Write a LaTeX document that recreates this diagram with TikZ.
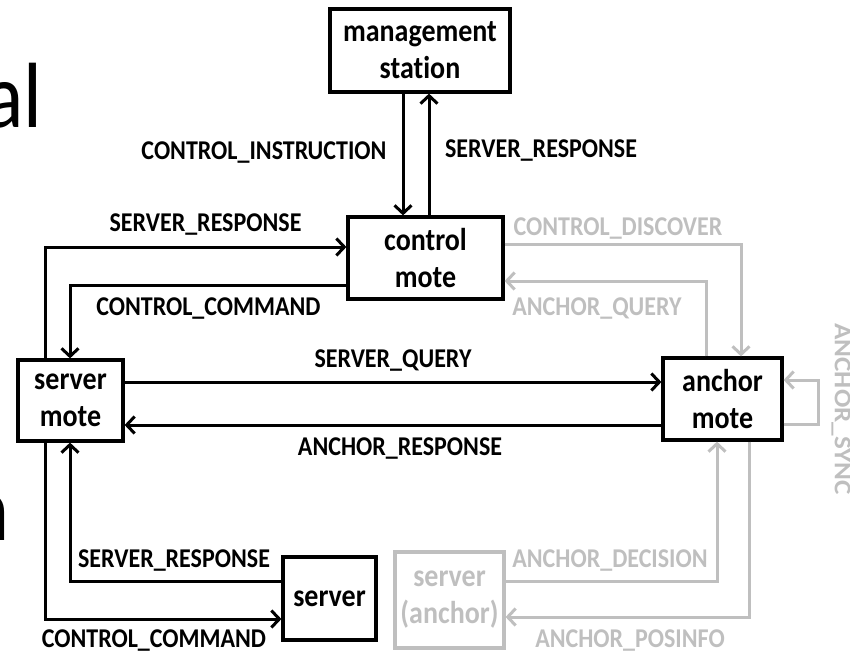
\documentclass[tikz,border=0pt]{standalone}
\usepackage{fontspec}
\setmainfont{Carlito}[Ligatures=NoCommon]
\usetikzlibrary{arrows.meta}
\definecolor{lgray}{RGB}{191,191,191}
\newcommand{\vst}[1]{\scalebox{1}[1.13]{#1}}
\newcommand{\hst}[1]{\scalebox{1.13}[1]{#1}}
\begin{document}
\begin{tikzpicture}[x=1pt,y=-1pt,
  box/.style={draw, line width=3.2pt, inner sep=0pt, font=\fontsize{28}{37}\selectfont\bfseries, align=center},
  lbl/.style={font=\fontsize{24}{28}\selectfont\bfseries, inner sep=0pt, anchor=base},
  conn/.style={line width=3pt, -{Straight Barb[length=8pt,width=17pt,line width=3pt]}},
  gr/.style={draw=lgray, text=lgray},
  big/.style={font=\fontsize{82}{90}\selectfont, inner sep=0pt, anchor=base west}]
\useasboundingbox (0,0) rectangle (850,652);

% partial slide text
\node[big] (al) at (-16,128) {\vst{al}};
\node[big] (nn) at (-34,540) {\vst{n}};

% boxes
\node[box, minimum width=180pt, minimum height=83pt] (mgmt) at (420,50.5) {\vst{management}\\\vst{station}};
\node[box, minimum width=155pt, minimum height=82pt] (ctrl) at (425.5,258) {\vst{control}\\\vst{mote}};
\node[box, minimum width=105pt, minimum height=81pt] (smote) at (70.5,400.5) {\vst{server}\\\vst{mote}};
\node[box, minimum width=119pt, minimum height=82pt] (amote) at (722.5,399) {\vst{anchor}\\\vst{mote}};
\node[box, minimum width=93pt, minimum height=83pt] (srv) at (329.5,598.5) {\vst{server}};
\node[box, gr, minimum width=109pt, minimum height=96pt] (sanc) at (449.5,600) {\vst{server}\\\vst{(anchor)}};

% helper coordinates
\coordinate (xa) at (403,0);
\coordinate (xb) at (429,0);
\coordinate (xl1) at (45,0);
\coordinate (xl2) at (70,0);
\coordinate (xcd) at (741,0);
\coordinate (xaq) at (706,0);
\coordinate (xsync) at (818,0);
\coordinate (xad) at (717,0);
\coordinate (xap) at (749,0);
\coordinate (ysr) at (0,247);
\coordinate (ycc) at (0,285);
\coordinate (ysq) at (0,382);
\coordinate (yar) at (0,425);
\coordinate (ycd) at (0,244);
\coordinate (yaq) at (0,281);
\coordinate (ys1) at (0,380);
\coordinate (ys2) at (0,424);
\coordinate (ysrb) at (0,581);
\coordinate (yccb) at (0,619);
\coordinate (yadb) at (0,581);
\coordinate (yapb) at (0,617);

% black connectors
\draw[conn] (xa |- mgmt.south) -- (xa |- ctrl.north);
\draw[conn] (xb |- ctrl.north) -- (xb |- mgmt.south);
\draw[conn] (xl1 |- smote.north) -- (xl1 |- ysr) -- (ysr -| ctrl.west);
\draw[conn] (ycc -| ctrl.west) -- (xl2 |- ycc) -- (xl2 |- smote.north);
\draw[conn] (ysq -| smote.east) -- (ysq -| amote.west);
\draw[conn] (yar -| amote.west) -- (yar -| smote.east);
\draw[conn] (ysrb -| srv.west) -- (xl2 |- ysrb) -- (xl2 |- smote.south);
\draw[conn] (xl1 |- smote.south) -- (xl1 |- yccb) -- (yccb -| srv.west);

% gray connectors
\draw[conn, lgray] (ycd -| ctrl.east) -- (xcd |- ycd) -- (xcd |- amote.north);
\draw[conn, lgray] (xaq |- amote.north) -- (xaq |- yaq) -- (yaq -| ctrl.east);
\draw[conn, lgray] (ys2 -| amote.east) -- (xsync |- ys2) -- (xsync |- ys1) -- (ys1 -| amote.east);
\draw[conn, lgray] (yadb -| sanc.east) -- (xad |- yadb) -- (xad |- amote.south);
\draw[conn, lgray] (xap |- amote.south) -- (xap |- yapb) -- (yapb -| sanc.east);

% labels
\node[lbl] (l1) at (264,160) {\vst{CONTROL\_INSTRUCTION}};
\node[lbl] (l2) at (541,158) {\vst{SERVER\_RESPONSE}};
\node[lbl] (l3) at (205.5,232) {\vst{SERVER\_RESPONSE}};
\node[lbl] (l4) at (208.5,315) {\vst{CONTROL\_COMMAND}};
\node[lbl] (l5) at (393,367) {\vst{SERVER\_QUERY}};
\node[lbl] (l6) at (400,455) {\vst{ANCHOR\_RESPONSE}};
\node[lbl] (l7) at (174,567) {\vst{SERVER\_RESPONSE}};
\node[lbl] (l8) at (154,647) {\vst{CONTROL\_COMMAND}};
\node[lbl, lgray] (g1) at (618,235) {\vst{CONTROL\_DISCOVER}};
\node[lbl, lgray] (g2) at (597,315) {\vst{ANCHOR\_QUERY}};
\node[lbl, lgray] (g3) at (610,567) {\vst{ANCHOR\_DECISION}};
\node[lbl, lgray] (g4) at (630,647) {\vst{ANCHOR\_POSINFO}};
\node[lbl, lgray, anchor=center, rotate=-90] (g5) at (841,409) {\hst{ANCHOR\_SYNC}};
\end{tikzpicture}
\end{document}
